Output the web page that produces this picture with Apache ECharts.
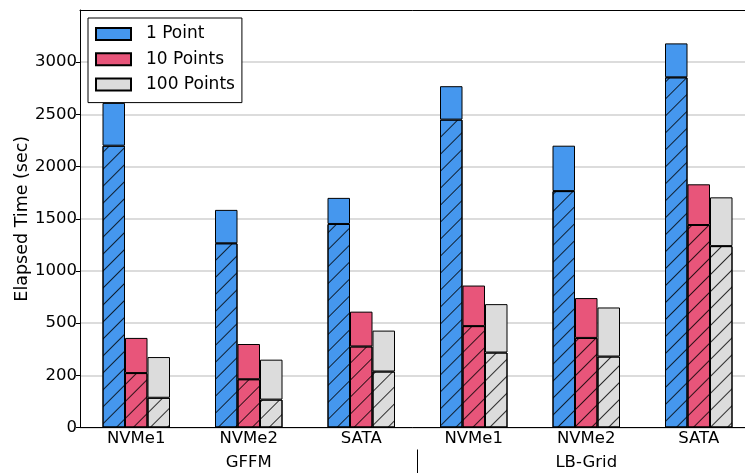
<!DOCTYPE html>
<html>
<head>
<meta charset="utf-8">
<script src="https://cdn.jsdelivr.net/npm/echarts@6/dist/echarts.min.js"></script>
<style>
  html, body { margin: 0; padding: 0; background: #fff; overflow: hidden; }
  #chart { width: 745px; height: 473px; }
</style>
</head>
<body>
<div id="chart"></div>
<script>
// 数据
var categories = ['NVMe1', 'NVMe2', 'SATA', 'NVMe1', 'NVMe2', 'SATA'];
var groups = ['GFFM', 'LB-Grid'];
var seriesNames = ['1 Point', '10 Points', '100 Points'];
var yTicks = [0, 200, 500, 1000, 1500, 2000, 2500, 3000, 3500];

var onePointTotal = [2610, 1585, 1700, 2770, 2200, 3180];
var onePointBase = [2200, 1265, 1450, 2450, 1765, 2855];
var tenPointsTotal = [415, 380, 610, 860, 740, 1830];
var tenPointsBase = [213, 185, 366, 483, 415, 1440];
var hundredPointsTotal = [305, 290, 457, 682, 650, 1705];
var hundredPointsBase = [114, 107, 222, 331, 308, 1238];

var colors = ['#4597ee', '#e8557a', '#dcdcdc'];

// y轴刻度不是等距的，按刻度分段映射
function toAxis(v) {
    for (var i = 0; i < yTicks.length - 1; i++) {
        if (v <= yTicks[i + 1]) {
            return i + (v - yTicks[i]) / (yTicks[i + 1] - yTicks[i]);
        }
    }
    return yTicks.length - 1;
}

var font = 'DejaVu Sans';
var fontSize = 16.5;

var hatch = {
    symbol: 'rect',
    symbolSize: 1,
    color: 'rgba(0,0,0,0.8)',
    dashArrayX: [1, 0],
    dashArrayY: [1, 11],
    rotation: -Math.PI / 4
};

var totals = [onePointTotal, tenPointsTotal, hundredPointsTotal];
var bases = [onePointBase, tenPointsBase, hundredPointsBase];

var series = [];
seriesNames.forEach(function (name, k) {
    var baseData = bases[k].map(toAxis);
    var topData = totals[k].map(function (t, i) {
        return toAxis(t) - toAxis(bases[k][i]);
    });
    series.push({
        name: name + ' base',
        type: 'bar',
        stack: 's' + k,
        barWidth: 22.5,
        barGap: '0%',
        data: baseData,
        itemStyle: {
            color: colors[k],
            borderColor: '#000',
            borderWidth: 1,
            decal: hatch
        }
    });
    series.push({
        name: name,
        type: 'bar',
        stack: 's' + k,
        barWidth: 22.5,
        barGap: '0%',
        data: topData,
        itemStyle: {
            color: colors[k],
            borderColor: '#000',
            borderWidth: 1
        }
    });
});

// 分组轴：0..6 对应六个类别，组中心在 1.5 和 4.5，分隔线在 3
var groupCenters = [1.5, 4.5];

var chart = echarts.init(document.getElementById('chart'));
var option = {
    animation: false,
    grid: {
        left: 80,
        top: 10,
        width: 675,
        height: 417.5,
        outerBoundsMode: 'none',
        containLabel: false
    },
    legend: {
        data: seriesNames,
        orient: 'vertical',
        left: 88,
        top: 18,
        padding: [6, 7, 8, 7],
        itemWidth: 35,
        itemHeight: 12,
        itemGap: 5.3,
        icon: 'rect',
        backgroundColor: '#fff',
        borderColor: '#000',
        borderWidth: 1,
        borderRadius: 0,
        textStyle: {
            fontFamily: font,
            fontSize: 17,
            color: '#000',
            lineHeight: 20,
            padding: [0, 0, 0, 10]
        }
    },
    xAxis: [{
        type: 'category',
        data: categories,
        splitLine: { show: false },
        axisLine: { lineStyle: { color: '#000', width: 1 } },
        axisTick: { show: false },
        axisLabel: {
            fontFamily: font,
            fontSize: fontSize,
            color: '#000',
            margin: 3
        }
    }, {
        type: 'value',
        min: 0,
        max: categories.length,
        position: 'bottom',
        offset: 22,
        splitLine: { show: false },
        axisLine: { show: false },
        axisTick: {
            show: true,
            length: 24,
            customValues: [categories.length / 2],
            lineStyle: { color: '#000', width: 1 }
        },
        axisLabel: {
            fontFamily: font,
            fontSize: fontSize,
            color: '#000',
            margin: 5,
            customValues: groupCenters,
            formatter: function (v) {
                return groups[Math.floor(v / 3)];
            }
        }
    }, {
        // 顶部边框
        type: 'category',
        data: categories,
        position: 'top',
        splitLine: { show: false },
        axisLine: { show: true, lineStyle: { color: '#000', width: 1 } },
        axisTick: { show: false },
        axisLabel: { show: false }
    }],
    yAxis: {
        type: 'value',
        min: 0,
        max: yTicks.length - 1,
        interval: 1,
        name: 'Elapsed Time (sec)',
        nameLocation: 'middle',
        nameGap: 49,
        nameMoveOverlap: false,
        nameTextStyle: {
            fontFamily: font,
            fontSize: 17.5,
            color: '#000'
        },
        axisLine: { show: true, lineStyle: { color: '#000', width: 1 } },
        axisTick: {
            show: true,
            length: 4,
            customValues: [0, 1, 2, 3, 4, 5, 6, 7],
            lineStyle: { color: '#000' }
        },
        axisLabel: {
            fontFamily: font,
            fontSize: fontSize,
            color: '#000',
            margin: 3,
            formatter: function (v) {
                return v < yTicks.length - 1 ? String(yTicks[v]) : '';
            }
        },
        splitLine: { lineStyle: { color: '#d0d0d0', width: 1.5 } }
    },
    series: series
};
chart.setOption(option);
</script>
</body>
</html>
